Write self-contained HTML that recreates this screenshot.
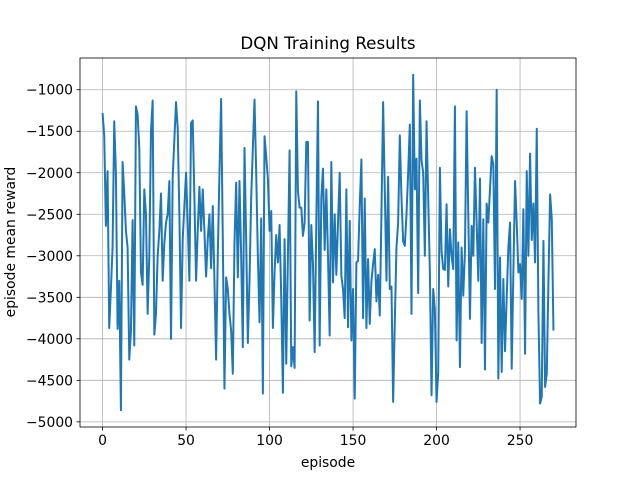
<!DOCTYPE html>
<html><head><meta charset="utf-8"><style>
body{margin:0;background:#fff;}
svg{display:block;font-family:"DejaVu Sans","Liberation Sans",sans-serif;}
</style></head><body>
<svg id="chart" width="640" height="480">
<rect width="640" height="480" fill="#fff"/>
<text x="328" y="49" text-anchor="middle" font-size="16.7">DQN Training Results</text>
<g id="grid"></g>
<g id="ticks"></g>
<path id="line" fill="none" stroke="#1f77b4" stroke-width="2" stroke-linejoin="round"/>
<rect x="80" y="58" width="496" height="369" fill="none" stroke="#000" stroke-width="0.8"/>
<text x="328" y="467" text-anchor="middle" font-size="13.9">episode</text>
<text x="15" y="242" text-anchor="middle" font-size="13.9" transform="rotate(-90 15 242)">episode mean reward</text>
</svg>
<script>
const rewards = [-1280,-1550,-2640,-1980,-3870,-3400,-2900,-1380,-2000,-3880,-3300,-4860,-1870,-2250,-2700,-2900,-4250,-3900,-2570,-4080,
-1200,-1300,-1700,-3200,-3350,-2200,-2500,-3700,-3000,-1500,-1130,-3950,-3700,-3000,-2700,-2250,-3300,-2850,-2600,-2500,
-2100,-4000,-2060,-1600,-1150,-1460,-2500,-3870,-2800,-2400,-2000,-2600,-3300,-1400,-1370,-2300,-3300,-2700,-2170,-2700,
-2200,-2700,-3250,-2800,-2500,-3150,-2400,-3300,-4250,-3000,-2000,-1110,-2800,-4600,-3260,-3400,-3700,-3900,-4420,-2850,
-2120,-3260,-2100,-3000,-4100,-1700,-2800,-4050,-3300,-2300,-1700,-1120,-2000,-3000,-3800,-2550,-4660,-1560,-1800,-2070,
-2700,-2460,-3870,-3200,-2750,-3080,-2630,-3500,-4650,-2800,-4300,-3000,-1730,-4330,-4100,-4350,-1020,-2220,-2420,-2420,
-2760,-2600,-1630,-1630,-3780,-2630,-3100,-4160,-2600,-1140,-4080,-2300,-1950,-2930,-2200,-3000,-3960,-1870,-3320,-2500,
-3230,-2600,-2000,-3240,-3400,-3750,-2200,-3860,-2580,-4020,-3400,-4720,-3080,-3060,-2400,-1840,-3750,-2310,-3870,-3040,
-3820,-3310,-3100,-2920,-3550,-3230,-3720,-2500,-1150,-2200,-3300,-2050,-3400,-3370,-4760,-3800,-2900,-2600,-1550,-2300,
-2830,-2880,-2500,-2000,-1420,-3700,-820,-2200,-1830,-3450,-1130,-1850,-2000,-3000,-1380,-2300,-3200,-4680,-3400,-3650,
-4760,-4400,-1940,-2950,-3160,-3170,-2380,-3370,-2680,-3000,-3160,-1200,-4020,-2840,-4340,-2900,-3480,-2950,-1260,-2500,
-3760,-2640,-3000,-1940,-2600,-3300,-2070,-4050,-2560,-4370,-2370,-2600,-2200,-1800,-1900,-3400,-1000,-4480,-3020,-4400,
-3280,-4150,-3500,-2900,-2600,-4360,-3200,-2100,-2600,-3200,-3100,-3520,-2440,-4180,-1980,-3000,-1770,-2810,-2370,-3080,
-1470,-3700,-4780,-4700,-2820,-4580,-4420,-3300,-2260,-2560,-3900];
const xTicks = [0,50,100,150,200,250];
const yTicks = [-1000,-1500,-2000,-2500,-3000,-3500,-4000,-4500,-5000];

const L=80,R=576,T=58,B=427;
const n=rewards.length;
const xmin=-0.05*(n-1), xmax=(n-1)*1.05;
const dmin=Math.min(...rewards), dmax=Math.max(...rewards), pad=(dmax-dmin)*0.05;
const ymin=dmin-pad, ymax=dmax+pad;
const xs=v=>L+(v-xmin)/(xmax-xmin)*(R-L);
const ys=v=>B-(v-ymin)/(ymax-ymin)*(B-T);
const NS="http://www.w3.org/2000/svg";
const grid=document.getElementById('grid'), ticks=document.getElementById('ticks');
function mk(tag,attrs,parent){const e=document.createElementNS(NS,tag);for(const k in attrs)e.setAttribute(k,attrs[k]);parent.appendChild(e);return e;}
xTicks.forEach(t=>{
  const x=xs(t);
  const g=mk('line',{x1:x,x2:x,y1:T,y2:B,stroke:'#b0b0b0','stroke-width':0.8},grid);
  
  
  mk('line',{x1:x,x2:x,y1:B,y2:B+3.5,stroke:'#000','stroke-width':0.8},ticks);
  const tx=mk('text',{x:x,y:B+18,'text-anchor':'middle','font-size':13.9},ticks);
  tx.textContent=t;
  
  
});
yTicks.forEach(t=>{
  const y=ys(t);
  const g=mk('line',{x1:L,x2:R,y1:y,y2:y,stroke:'#b0b0b0','stroke-width':0.8},grid);
  
  
  mk('line',{x1:L-3.5,x2:L,y1:y,y2:y,stroke:'#000','stroke-width':0.8},ticks);
  const tx=mk('text',{x:L-7,y:y+5,'text-anchor':'end','font-size':13.9},ticks);
  tx.textContent=String(t).replace('-','\u2212');
  
  
});
document.getElementById('line').setAttribute('d',rewards.map((v,i)=>(i?'L':'M')+xs(i).toFixed(2)+','+ys(v).toFixed(2)).join(''));
</script>
</body></html>
